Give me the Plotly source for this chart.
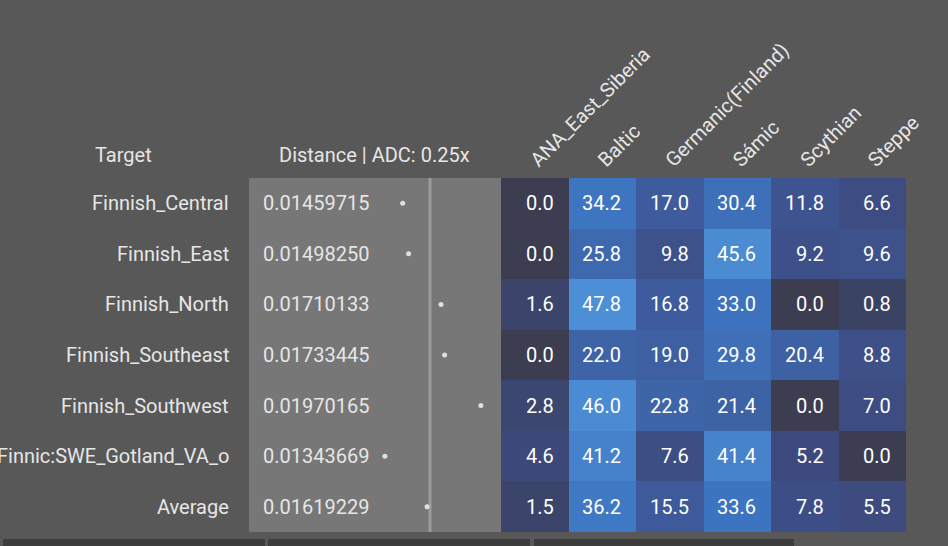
import plotly.graph_objects as go

W, H = 948, 546

targets = ["Finnish_Central", "Finnish_East", "Finnish_North", "Finnish_Southeast",
           "Finnish_Southwest", "Finnic:SWE_Gotland_VA_o", "Average"]
distances = [0.01459715, 0.01498250, 0.01710133, 0.01733445,
             0.01970165, 0.01343669, 0.01619229]
components = ["ANA_East_Siberia", "Baltic", "Germanic(Finland)", "Sámic", "Scythian", "Steppe"]
shares = [
    [0.0, 34.2, 17.0, 30.4, 11.8, 6.6],
    [0.0, 25.8, 9.8, 45.6, 9.2, 9.6],
    [1.6, 47.8, 16.8, 33.0, 0.0, 0.8],
    [0.0, 22.0, 19.0, 29.8, 20.4, 8.8],
    [2.8, 46.0, 22.8, 21.4, 0.0, 7.0],
    [4.6, 41.2, 7.6, 41.4, 5.2, 0.0],
    [1.5, 36.2, 15.5, 33.6, 7.8, 5.5],
]


def px(x):
    return x / W


def py(y):
    return 1 - y / H


FONT = "Roboto"
FS = 20
TXT = "#e6e6e6"

fig = go.Figure()

# distance dots
fig.add_trace(go.Scatter(
    x=distances, y=targets, mode="markers",
    marker=dict(size=5, color="#e0e0e0"),
    xaxis="x", yaxis="y", hoverinfo="skip", showlegend=False))

# admixture heatmap
fig.add_trace(go.Heatmap(
    z=shares, x=components, y=targets,
    xaxis="x2", yaxis="y",
    zmin=0, zmax=48,
    colorscale=[[0.0, "#3c3d50"], [0.02, "#3b4468"], [0.12, "#3d4b80"],
                [0.3, "#3e5898"], [0.55, "#3e6aaf"], [0.7, "#3d74bf"],
                [1.0, "#4d8fd6"]],
    showscale=False, hoverinfo="skip", xgap=0, ygap=0))

annotations = []
for t, d in zip(targets, distances):
    annotations.append(dict(
        x=px(261), xref="paper", y=t, yref="y", text=f"{d:.8f}",
        xanchor="left", showarrow=False, font=dict(family=FONT, size=FS, color=TXT)))
    annotations.append(dict(
        x=px(231), xref="paper", y=t, yref="y", text=t,
        xanchor="right", showarrow=False, font=dict(family=FONT, size=FS, color=TXT)))
for t, row in zip(targets, shares):
    for c, v in zip(components, row):
        annotations.append(dict(
            x=c, xref="x2", y=t, yref="y", text=f"{v:.1f}",
            xanchor="right", xshift=21, showarrow=False,
            font=dict(family=FONT, size=FS, color="#ffffff")))

annotations.append(dict(x=px(93), y=py(155), xref="paper", yref="paper", text="Target",
                        xanchor="left", yanchor="middle", showarrow=False,
                        font=dict(family=FONT, size=FS, color=TXT)))
annotations.append(dict(x=px(374), y=py(155), xref="paper", yref="paper",
                        text="Distance | ADC: 0.25x", xanchor="center", yanchor="middle",
                        showarrow=False, font=dict(family=FONT, size=FS, color=TXT)))

shapes = [
    dict(type="rect", xref="paper", yref="paper", x0=px(249), x1=px(501),
         y0=py(532), y1=py(178), fillcolor="#777777", line=dict(width=0), layer="below"),
    dict(type="rect", xref="paper", yref="paper", x0=px(428.5), x1=px(431.5),
         y0=py(532), y1=py(178), fillcolor="#9b9b9b", line=dict(width=0), layer="below"),
]
for a, b in [(3, 265), (268, 530), (534, 794)]:
    shapes.append(dict(type="rect", xref="paper", yref="paper", x0=px(a), x1=px(b),
                       y0=0, y1=py(539), fillcolor="#3c3c3c", line=dict(width=0)))

fig.update_layout(
    width=W, height=H,
    margin=dict(l=0, r=0, t=0, b=0, autoexpand=False),
    paper_bgcolor="#585858", plot_bgcolor="rgba(0,0,0,0)",
    font=dict(family=FONT, size=FS, color=TXT),
    xaxis=dict(domain=[px(249), px(501)], range=[0.0045683, 0.0210142],
               visible=False, fixedrange=True, automargin=False),
    xaxis2=dict(domain=[px(501), px(906)], anchor="y", side="top",
                tickangle=-45, showgrid=False, zeroline=False, ticks="",
                automargin=False, ticklabelstandoff=2, ticklabelshift=-3,
                tickfont=dict(family=FONT, size=FS, color=TXT), fixedrange=True),
    yaxis=dict(domain=[py(532), py(178)], autorange="reversed",
               visible=False, fixedrange=True, automargin=False),
    annotations=annotations,
    shapes=shapes,
)

fig.write_html("out.html", config={"displayModeBar": False},
               post_script="document.body.style.margin='0px';"
                           "document.body.style.background='#585858';")
